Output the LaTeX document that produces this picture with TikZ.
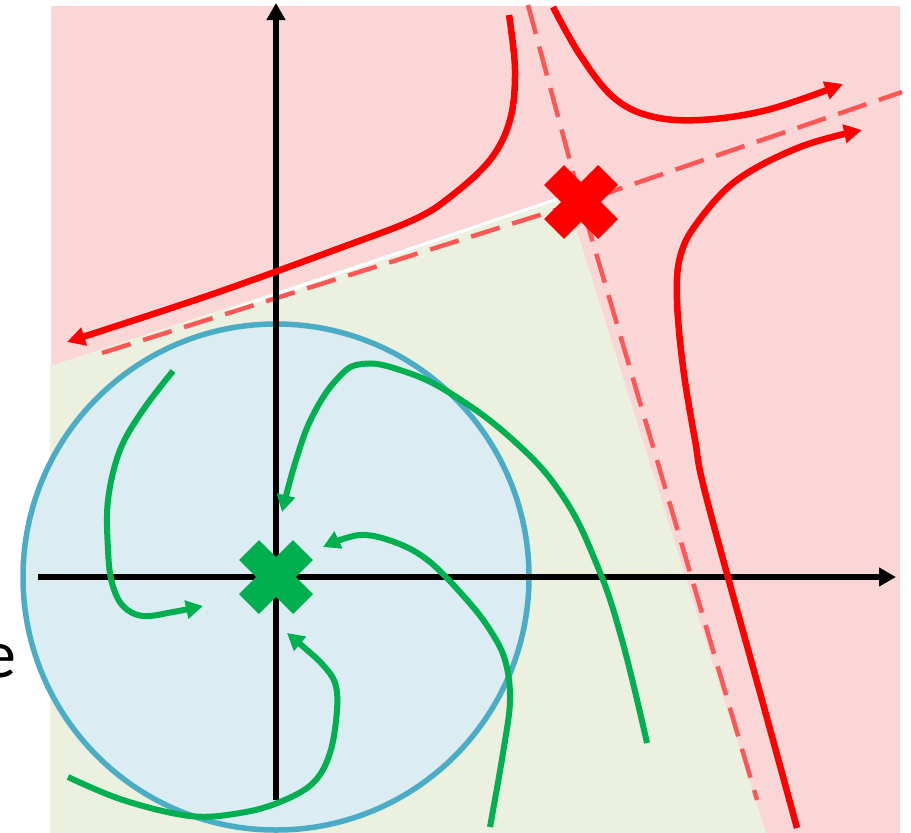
\documentclass[tikz,border=0pt]{standalone}
\usepackage{fontspec}
\setmainfont{Carlito}
\usepackage{xcolor}
\usetikzlibrary{arrows.meta}

\definecolor{unstablebg}{HTML}{FAD6D7}
\definecolor{stablebg}{HTML}{EBF0DF}
\definecolor{basinfill}{HTML}{DBEDF3}
\definecolor{basinline}{HTML}{4BACC6}
\definecolor{trajgreen}{HTML}{00B050}
\definecolor{trajred}{HTML}{FF0000}
\definecolor{seplight}{HTML}{FF5656}

\begin{document}
\begin{tikzpicture}[x=1pt,y=-1pt,
        axis/.style={line width=6pt,-{Triangle[length=17pt,width=18pt]}},
        greentraj/.style={trajgreen,line width=6pt,-{Triangle[length=17pt,width=18pt]}},
        redtraj/.style={trajred,line width=6.5pt,-{Triangle[length=18pt,width=18pt]}},
        separatrix/.style={seplight,line width=4.5pt,dash pattern=on 30pt off 13pt},
        crossmark/.style={line width=28pt,line cap=butt}]
    \useasboundingbox (0,0) rectangle (911,833);

    % regions
    \fill[unstablebg] (51,6) rectangle (900,833);
    \fill[stablebg] (50,366) -- (566,196) -- (766,833) -- (50,833) -- cycle;
    \draw[white,line width=3pt] (230,310) -- (566,196);
    \coordinate (origin) at (276,577);
    \coordinate (saddle) at (581,202);
    \draw[basinline,fill=basinfill,line width=5.5pt] (origin) circle[radius=253];

    % separatrices of the saddle
    \draw[separatrix] (102,353) -- (saddle) -- (902,92);
    \draw[separatrix] (528,5) -- (saddle) -- (757,800);

    % axes
    \coordinate (xstart) at (38,577);
    \coordinate (xend) at (896,577);
    \coordinate (ystart) at (276,800);
    \coordinate (yend) at (276,3);
    \draw[axis] (xstart) -- (xend);
    \draw[axis] (ystart) -- (yend);

    % trajectories leaving the saddle
    \draw[redtraj] plot[smooth,tension=0.6] coordinates {(509,15) (515,70) (510,120) (490,160) (450,197) (413,220) (340,248) (210,295) (67,342)};
    \draw[redtraj] plot[smooth,tension=0.6] coordinates {(553,7) (580,55) (613,97) (650,116) (700,120) (767,110) (843,84)};
    \draw[redtraj] plot[smooth,tension=0.6] coordinates {(797,828) (762,700) (707,500) (695,440) (683,367) (677,300) (680,257) (697,223) (737,180) (800,147) (862,130)};

    % trajectories going to the stable point
    \draw[greentraj] plot[smooth,tension=0.6] coordinates {(173,371) (143,410) (120,450) (108,500) (108,550) (112,583) (123,606) (143,616) (173,612) (203,606)};
    \draw[greentraj] plot[smooth,tension=0.6] coordinates {(68,777) (123,800) (190,816) (240,813) (280,802) (313,783) (330,753) (337,710) (335,683) (323,665) (307,650) (287,633)};
    \draw[greentraj] plot[smooth,tension=0.6] coordinates {(490,827) (503,753) (510,700) (505,660) (490,630) (467,600) (430,562) (397,543) (360,535) (323,547)};
    \draw[greentraj] plot[smooth,tension=0.7] coordinates {(647,743) (622,640) (597,565) (562,495) (513,440) (450,393) (400,370) (362,364) (338,378) (313,415) (296,460) (282,512)};

    % fixed points
    \draw[crossmark,trajgreen] ([shift={(-27,-27)}]origin) -- ([shift={(27,27)}]origin);
    \draw[crossmark,trajgreen] ([shift={(-27,27)}]origin) -- ([shift={(27,-27)}]origin);
    \draw[crossmark,trajred] ([shift={(-27,-27)}]saddle) -- ([shift={(27,27)}]saddle);
    \draw[crossmark,trajred] ([shift={(-27,27)}]saddle) -- ([shift={(27,-27)}]saddle);

    % cut-off label at the left edge
    \node[anchor=base east,inner sep=0pt,font=\fontsize{68}{68}\selectfont] (cutlabel) at (17,677) {e};
\end{tikzpicture}
\end{document}
